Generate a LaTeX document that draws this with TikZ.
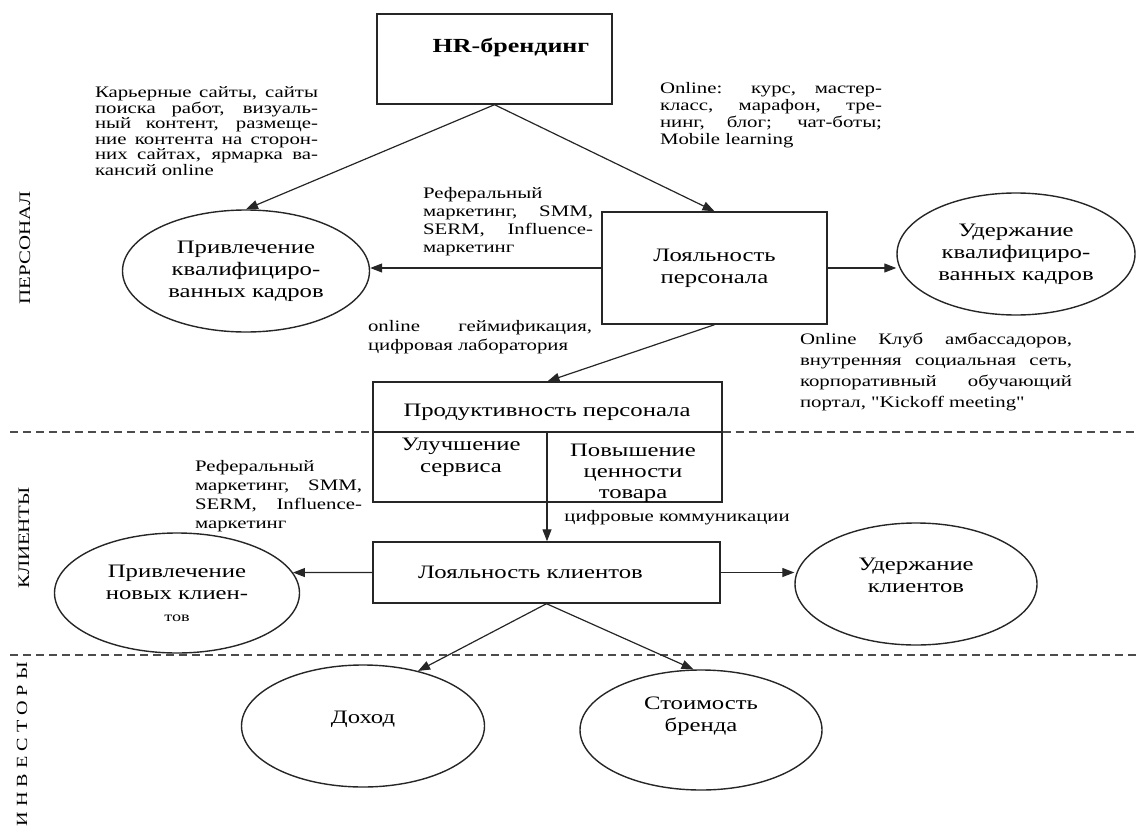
\documentclass[tikz,border=0pt]{standalone}
\usepackage{fontspec}
\setmainfont{Liberation Serif}[FakeStretch=1.3, Ligatures=TeXOff]
\usetikzlibrary{shapes.geometric, arrows.meta, positioning, calc}

\begin{document}
\begin{tikzpicture}[
    x=1pt, y=-1pt,
    font=\fontsize{19}{22}\selectfont,
    >={Triangle[length=12pt, width=9pt]},
    baseBox/.style={
        rectangle,
        draw=black!85,
        line width=1.4pt,
        align=center,
        inner sep=0pt
    },
    oval/.style={ellipse, draw=black!85, line width=1.4pt, align=center, inner sep=0pt},
    txt/.style={align=center, inner sep=0pt},
    note/.style={align=justify, inner sep=0pt, font=\fontsize{16}{15.5}\selectfont},
    zone/.style={rotate=90, inner sep=0pt, font=\fontsize{16}{16}\selectfont},
    seta/.style={->, line width=1.2pt, draw=black!85},
    razdel/.style={dash pattern=on 8pt off 5pt, line width=1.8pt, draw=black!70}
]
    \useasboundingbox (0,0) rectangle (1137,832);

    % --- Zones ---
    \node[zone] (zPers) at (25,248) {ПЕРСОНАЛ};
    \node[zone] (zKlient) at (24,538) {КЛИЕНТЫ};
    \node[zone, anchor=east, font=\fontsize{15.5}{16}\selectfont] (zInv) at (22,662) {И Н В Е С Т О Р Ы};

    % --- 1. HR-branding ---
    \node[baseBox, minimum width=235pt, minimum height=90pt] (hr) at (494.5,59) {};
    \node[txt, font=\fontsize{20}{22}\selectfont\bfseries] (hrText) at (511,47) {HR-брендинг};

    % --- 2. Personnel ---
    \node[oval, minimum width=247pt, minimum height=122pt] (privKadr) at (246,271)
        {Привлечение\\квалифициро-\\ванных кадров};
    \node[baseBox, minimum width=225pt, minimum height=112pt] (loyPers) at (714.5,268)
        {Лояльность\\персонала};
    \node[oval, minimum width=238pt, minimum height=122pt] (uderKadr) at (1016,254)
        {Удержание\\квалифициро-\\ванных кадров};

    % --- 3. Productivity ---
    \node[baseBox, minimum width=349pt, minimum height=120pt] (prod) at (547.5,442) {};
    \coordinate (razdel) at (547,432);
    \node[txt] (prodText) at (547,412) {Продуктивность персонала};
    \node[txt] (servis) at (461,457) {Улучшение\\сервиса};
    \node[txt, font=\fontsize{19}{21}\selectfont] (cennost) at (633,473) {Повышение\\ценности\\товара};

    % --- 4. Clients ---
    \node[baseBox, minimum width=347pt, minimum height=61pt] (loyKlient) at (546.5,572.5)
        {Лояльность клиентов\hspace*{32pt}};
    \node[oval, minimum width=245pt, minimum height=120pt] (privKlient) at (177,593)
        {Привлечение\\новых клиен-\\{\fontsize{14}{16}\selectfont тов}};
    \node[oval, minimum width=242pt, minimum height=122pt] (uderKlient) at (916,584)
        {Удержание\\клиентов\\[-4pt]};

    % --- 5. Investors ---
    \node[oval, minimum width=243pt, minimum height=122pt] (dohod) at (363,726) {Доход\\[-4pt]};
    \node[oval, minimum width=242pt, minimum height=120pt] (brend) at (701,730)
        {Стоимость\\бренда\\[10pt]};

    % --- Channels ---
    \node[note, text width=223pt] (kanaly) at (206.5,131)
        {Карьерные сайты, сайты\linebreak поиска работ, визуаль-\linebreak ный контент, размеще-\linebreak ние контента на сторон-\linebreak них сайтах, ярмарка ва-\linebreak кансий online};
    \node[note, text width=222pt, font=\fontsize{16}{17}\selectfont] (obuch) at (771,115)
        {Online: курс, мастер-\linebreak класс, марафон, тре-\linebreak нинг, блог; чат-боты;\linebreak Mobile learning};
    \node[note, text width=170pt, font=\fontsize{16}{18}\selectfont] (refPers) at (508,222)
        {Реферальный\\ маркетинг, SMM,\linebreak SERM, Influence-\linebreak маркетинг};
    \node[note, text width=224pt, font=\fontsize{16}{19}\selectfont] (geim) at (480,337)
        {online геймификация,\linebreak цифровая лаборатория};
    \node[note, text width=272pt, font=\fontsize{16}{21}\selectfont] (klub) at (936,372)
        {Online Клуб амбассадоров,\linebreak внутренняя социальная сеть,\linebreak корпоративный обучающий\linebreak портал, "Kickoff meeting"};
    \node[note, text width=167pt, font=\fontsize{16}{19}\selectfont] (refKlient) at (278.5,496)
        {Реферальный\\ маркетинг, SMM,\linebreak SERM, Influence-\linebreak маркетинг};
    \node[note, align=left] (cifra) at (677,518) {цифровые коммуникации};

    % --- Zone borders ---
    \draw[razdel] (10,432) -- (prod.west |- razdel);
    \draw[razdel] (prod.east |- razdel) -- (1137,432);
    \draw[razdel] (10,655) -- (1137,655);
    \draw[line width=1.4pt, draw=black!85] (prod.west |- razdel) -- (prod.east |- razdel);
    \draw[line width=1.4pt, draw=black!85] (razdel) -- (razdel |- prod.south);

    % --- Connections ---
    \draw[seta] (hr.south) -- (privKadr.north);
    \draw[seta] (hr.south) -- (loyPers.north);
    \draw[seta] (loyPers.west) -- (loyPers.west -| privKadr.east);
    \draw[seta] (loyPers.east) -- (loyPers.east -| uderKadr.west);
    \draw[seta] (loyPers.south) -- (prod.north);

    \draw[seta] (razdel) -- (razdel |- loyKlient.north);
    \draw[seta] (loyKlient.west) -- (privKlient.10);
    \draw[seta] (loyKlient.east) -- (loyKlient.east -| uderKlient.west);

    \draw[seta] (loyKlient.south) -- (dohod.45);
    \draw[seta] (loyKlient.south) -- (brend.97);
\end{tikzpicture}
\end{document}
